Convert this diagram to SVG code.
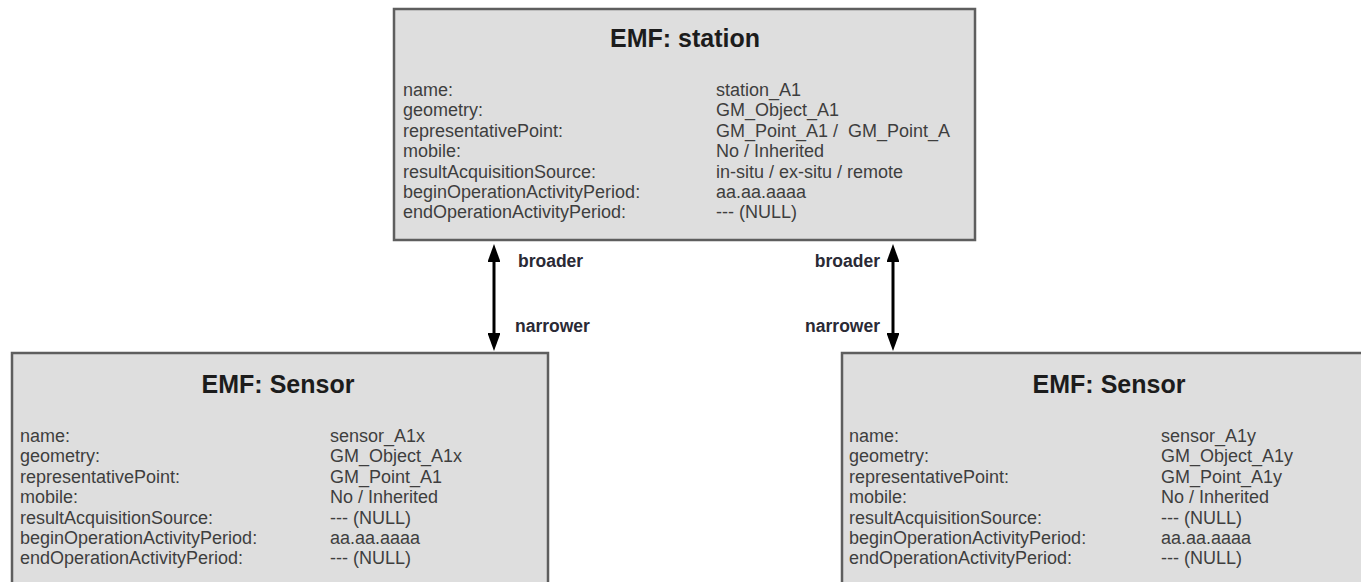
<svg xmlns="http://www.w3.org/2000/svg" width="1361" height="582" viewBox="0 0 1361 582">
  <style>
    .box { fill: #dedede; stroke: #5e5e5e; stroke-width: 2.5; }
    .title { font-family: "Liberation Sans", Arial, sans-serif; font-size: 25px; font-weight: bold; fill: #1c1c1c; text-anchor: middle; }
    .attr { font-family: "Liberation Sans", Arial, sans-serif; font-size: 18px; fill: #3e3e3e; }
    .rel { font-family: "Liberation Sans", Arial, sans-serif; font-size: 17.5px; font-weight: bold; fill: #2a2a35; }
    .conn { stroke: #000; stroke-width: 3; fill: none; marker-start: url(#head); marker-end: url(#head); }
  </style>
  <defs>
    <marker id="head" viewBox="0 0 18 13" refX="12" refY="6.5" markerWidth="6" markerHeight="4.33" orient="auto-start-reverse" markerUnits="strokeWidth">
      <path d="M0,0 L18,6.5 L0,13 z" fill="#000"/>
    </marker>
  </defs>
  <rect width="1361" height="582" fill="#fff"/>

  <!-- station -->
  <g id="station">
    <rect class="box" x="394" y="9" width="581" height="231"/>
    <text class="title" x="685" y="47">EMF: station</text>
    <g class="attr">
      <text x="403" y="96">name:</text>
      <text x="403" y="116.4">geometry:</text>
      <text x="403" y="136.8">representativePoint:</text>
      <text x="403" y="157.2">mobile:</text>
      <text x="403" y="177.6">resultAcquisitionSource:</text>
      <text x="403" y="198">beginOperationActivityPeriod:</text>
      <text x="403" y="218.4">endOperationActivityPeriod:</text>
      <text x="716" y="96">station_A1</text>
      <text x="716" y="116.4">GM_Object_A1</text>
      <text x="716" y="136.8" xml:space="preserve">GM_Point_A1 /  GM_Point_A</text>
      <text x="716" y="157.2">No / Inherited</text>
      <text x="716" y="177.6">in-situ / ex-situ / remote</text>
      <text x="716" y="198">aa.aa.aaaa</text>
      <text x="716" y="218.4">--- (NULL)</text>
    </g>
  </g>

  <!-- sensor A1x -->
  <g id="sensor-a1x">
    <rect class="box" x="12" y="353" width="536" height="240"/>
    <text class="title" x="278" y="393">EMF: Sensor</text>
    <g class="attr">
      <text x="20" y="442">name:</text>
      <text x="20" y="462.4">geometry:</text>
      <text x="20" y="482.8">representativePoint:</text>
      <text x="20" y="503.2">mobile:</text>
      <text x="20" y="523.6">resultAcquisitionSource:</text>
      <text x="20" y="544">beginOperationActivityPeriod:</text>
      <text x="20" y="564.4">endOperationActivityPeriod:</text>
      <text x="330" y="442">sensor_A1x</text>
      <text x="330" y="462.4">GM_Object_A1x</text>
      <text x="330" y="482.8">GM_Point_A1</text>
      <text x="330" y="503.2">No / Inherited</text>
      <text x="330" y="523.6">--- (NULL)</text>
      <text x="330" y="544">aa.aa.aaaa</text>
      <text x="330" y="564.4">--- (NULL)</text>
    </g>
  </g>

  <!-- sensor A1y -->
  <g id="sensor-a1y">
    <rect class="box" x="842" y="353" width="536" height="240"/>
    <text class="title" x="1109" y="393">EMF: Sensor</text>
    <g class="attr">
      <text x="849" y="442">name:</text>
      <text x="849" y="462.4">geometry:</text>
      <text x="849" y="482.8">representativePoint:</text>
      <text x="849" y="503.2">mobile:</text>
      <text x="849" y="523.6">resultAcquisitionSource:</text>
      <text x="849" y="544">beginOperationActivityPeriod:</text>
      <text x="849" y="564.4">endOperationActivityPeriod:</text>
      <text x="1161" y="442">sensor_A1y</text>
      <text x="1161" y="462.4">GM_Object_A1y</text>
      <text x="1161" y="482.8">GM_Point_A1y</text>
      <text x="1161" y="503.2">No / Inherited</text>
      <text x="1161" y="523.6">--- (NULL)</text>
      <text x="1161" y="544">aa.aa.aaaa</text>
      <text x="1161" y="564.4">--- (NULL)</text>
    </g>
  </g>

  <!-- broader / narrower links -->
  <g id="connectors">
    <line class="conn" x1="494" y1="250" x2="494" y2="345"/>
    <line class="conn" x1="893" y1="250" x2="893" y2="345"/>
    <text class="rel" x="518" y="267">broader</text>
    <text class="rel" x="515" y="332">narrower</text>
    <text class="rel" x="880" y="267" text-anchor="end">broader</text>
    <text class="rel" x="880" y="332" text-anchor="end">narrower</text>
  </g>
</svg>
